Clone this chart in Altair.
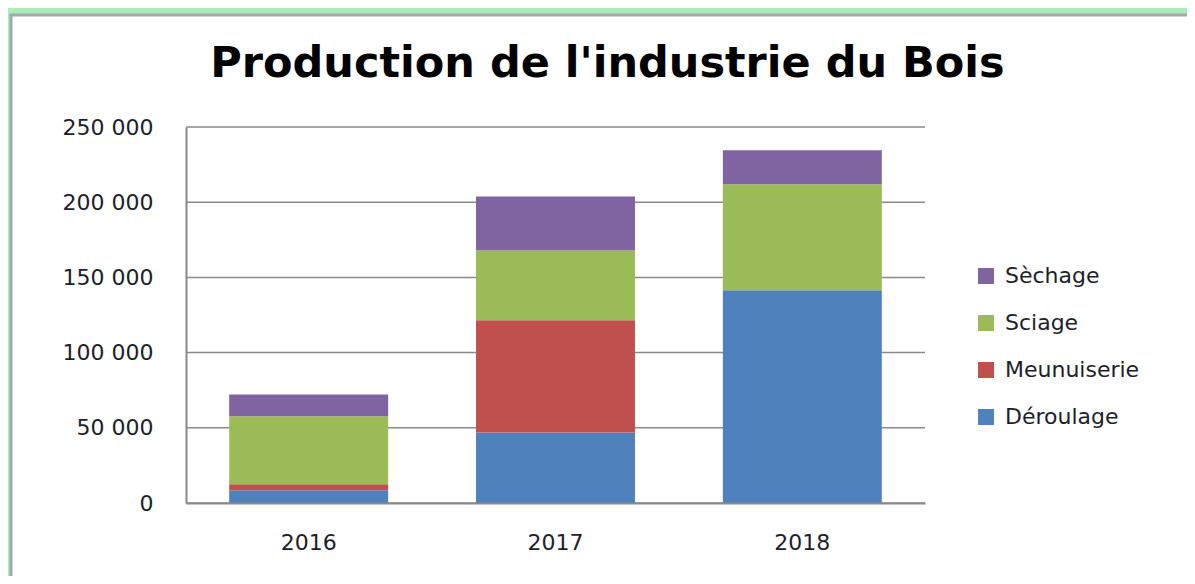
import altair as alt
import pandas as pd

years = ["2016", "2017", "2018"]
series = ["Déroulage", "Meunuiserie", "Sciage", "Sèchage"]
deroulage = [8400, 46900, 141400]
meunuiserie = [4000, 74600, 0]
sciage = [45300, 46400, 70600]
sechage = [14400, 35900, 22500]
colors = ["#4f81bd", "#c0504d", "#9bbb59", "#8064a2"]
y_ticks = [0, 50000, 100000, 150000, 200000, 250000]

rows = []
for s_idx, (name, vals) in enumerate(zip(series, [deroulage, meunuiserie, sciage, sechage])):
    for yr, v in zip(years, vals):
        rows.append({"year": yr, "series": name, "value": v, "idx": s_idx})
df = pd.DataFrame(rows)

legend_order = list(reversed(series))
legend_colors = list(reversed(colors))

FONT = "DejaVu Sans"
TXT = "#1e1e2a"

frame = alt.Chart(alt.Data(values=[{"k": 1}])).mark_rect(
    fill="white", stroke="#a6a6a6", strokeWidth=3
).encode(
    x=alt.value(-175), x2=alt.value(1010),
    y=alt.value(-112), y2=alt.value(460)
)

grid = alt.Chart(pd.DataFrame({"tick": y_ticks})).mark_rule(
    color="#8a8a8a", strokeWidth=1.5
).encode(
    y=alt.Y("tick:Q", scale=alt.Scale(domain=[0, 250000]), title=None)
)

bars = alt.Chart(df).mark_bar().encode(
    x=alt.X("year:N", title=None,
            scale=alt.Scale(paddingInner=0.356, paddingOuter=0.175),
            axis=alt.Axis(labelAngle=0, labelFont=FONT, labelFontSize=22,
                          labelColor=TXT, ticks=False, tickSize=0,
                          labelPadding=29, domainColor="#8a8a8a",
                          domainWidth=2, zindex=1)),
    y=alt.Y("value:Q", stack="zero", title=None,
            scale=alt.Scale(domain=[0, 250000]),
            axis=alt.Axis(values=y_ticks, grid=False, ticks=False, tickSize=0,
                          labelFont=FONT, labelFontSize=22, labelColor=TXT,
                          labelPadding=33, domainColor="#8a8a8a", domainWidth=2,
                          labelExpr="replace(format(datum.value, ','), ',', ' ')",
                          zindex=1)),
    color=alt.Color("series:N",
                    scale=alt.Scale(domain=legend_order, range=legend_colors),
                    legend=alt.Legend(orient="none", legendX=789, legendY=138,
                                      title=None, symbolType="square",
                                      symbolSize=256, symbolStrokeWidth=0,
                                      labelFont=FONT, labelFontSize=22,
                                      labelColor=TXT, rowPadding=25,
                                      labelOffset=8, padding=0)),
    order=alt.Order("idx:Q", sort="ascending"),
)

chart = alt.layer(frame, grid, bars).properties(
    width=739, height=376,
    autosize=alt.AutoSizeParams(type="none"),
    padding={"left": 178, "top": 119, "right": 262, "bottom": 73},
    background="#a9edb9",
    title=alt.TitleParams("Production de l'industrie du Bois",
                          font="DejaVu Sans", fontSize=43, fontWeight="bold",
                          color="#000000", anchor="middle", frame="group",
                          dx=52, dy=106, baseline="alphabetic", offset=0),
).configure_view(stroke=None)

chart.save("out.html", embed_options={"renderer": "svg", "actions": False})
